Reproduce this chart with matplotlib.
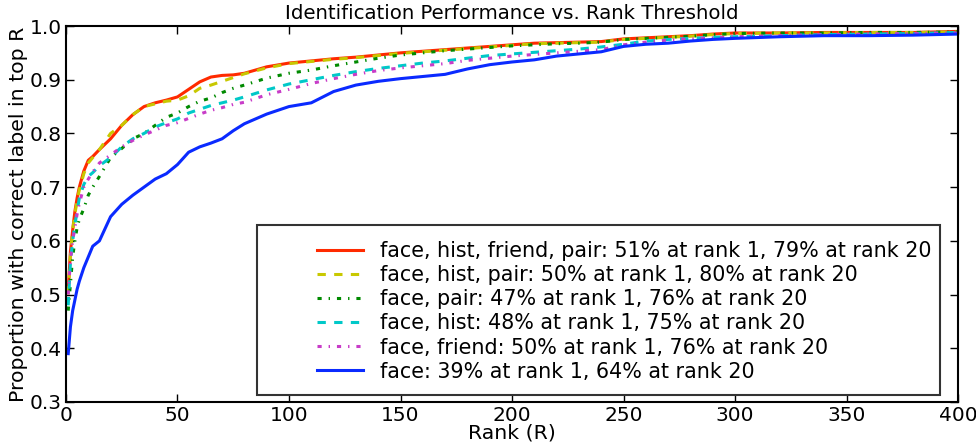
import matplotlib
matplotlib.use("Agg")
import matplotlib.pyplot as plt
from matplotlib.patches import Rectangle

ranks = [1, 2, 3, 4, 5, 6, 8, 10, 12, 15, 20, 25, 30, 35, 40, 45, 50, 55, 60, 65,
         70, 75, 80, 90, 100, 110, 120, 130, 140, 150, 160, 170, 180, 190, 200,
         210, 220, 230, 240, 250, 260, 270, 280, 290, 300, 320, 340, 360, 380, 400]

face_hist_friend_pair = [0.51, 0.58, 0.62, 0.655, 0.68, 0.70, 0.73, 0.75, 0.757, 0.77,
                         0.79, 0.815, 0.835, 0.85, 0.857, 0.862, 0.868, 0.882, 0.896, 0.905,
                         0.908, 0.909, 0.912, 0.924, 0.931, 0.935, 0.939, 0.942, 0.946, 0.950,
                         0.953, 0.956, 0.959, 0.962, 0.965, 0.968, 0.969, 0.970, 0.971, 0.976,
                         0.978, 0.980, 0.982, 0.985, 0.987, 0.987, 0.988, 0.988, 0.988, 0.990]
face_hist_pair = [0.50, 0.575, 0.62, 0.65, 0.675, 0.695, 0.725, 0.745, 0.755, 0.77,
                  0.80, 0.815, 0.835, 0.85, 0.855, 0.86, 0.862, 0.87, 0.884, 0.89,
                  0.897, 0.904, 0.911, 0.922, 0.930, 0.934, 0.938, 0.941, 0.945, 0.949,
                  0.952, 0.955, 0.958, 0.961, 0.964, 0.967, 0.968, 0.969, 0.970, 0.975,
                  0.977, 0.979, 0.981, 0.984, 0.986, 0.987, 0.987, 0.988, 0.988, 0.989]
face_pair = [0.47, 0.52, 0.57, 0.60, 0.625, 0.64, 0.66, 0.685, 0.70, 0.72,
             0.755, 0.772, 0.79, 0.80, 0.815, 0.83, 0.838, 0.85, 0.86, 0.866,
             0.876, 0.884, 0.89, 0.903, 0.912, 0.918, 0.926, 0.933, 0.94, 0.946,
             0.95, 0.954, 0.957, 0.96, 0.963, 0.965, 0.967, 0.968, 0.970, 0.975,
             0.977, 0.979, 0.981, 0.984, 0.986, 0.987, 0.987, 0.988, 0.988, 0.989]
face_hist = [0.48, 0.56, 0.60, 0.63, 0.655, 0.68, 0.705, 0.72, 0.727, 0.74,
             0.755, 0.775, 0.79, 0.80, 0.812, 0.82, 0.827, 0.838, 0.845, 0.852,
             0.857, 0.862, 0.868, 0.881, 0.892, 0.90, 0.908, 0.915, 0.921, 0.926,
             0.931, 0.935, 0.94, 0.945, 0.948, 0.951, 0.954, 0.957, 0.961, 0.966,
             0.972, 0.975, 0.977, 0.979, 0.980, 0.982, 0.984, 0.985, 0.986, 0.988]
face_friend = [0.50, 0.565, 0.60, 0.625, 0.65, 0.67, 0.70, 0.715, 0.728, 0.745,
               0.76, 0.775, 0.787, 0.797, 0.806, 0.815, 0.82, 0.828, 0.836, 0.843,
               0.848, 0.854, 0.858, 0.872, 0.882, 0.893, 0.902, 0.91, 0.917, 0.922,
               0.926, 0.93, 0.936, 0.94, 0.944, 0.947, 0.95, 0.953, 0.956, 0.965,
               0.970, 0.974, 0.976, 0.978, 0.980, 0.982, 0.984, 0.985, 0.986, 0.987]
face = [0.39, 0.44, 0.47, 0.49, 0.51, 0.525, 0.55, 0.57, 0.59, 0.60,
        0.645, 0.668, 0.685, 0.70, 0.715, 0.725, 0.742, 0.765, 0.775, 0.782,
        0.79, 0.805, 0.818, 0.836, 0.85, 0.857, 0.878, 0.89, 0.897, 0.902,
        0.906, 0.91, 0.92, 0.928, 0.933, 0.937, 0.944, 0.948, 0.952, 0.962,
        0.966, 0.968, 0.972, 0.975, 0.977, 0.980, 0.982, 0.982, 0.983, 0.985]

labels = ["face, hist, friend, pair: 51% at rank 1, 79% at rank 20",
          "face, hist, pair: 50% at rank 1, 80% at rank 20",
          "face, pair: 47% at rank 1, 76% at rank 20",
          "face, hist: 48% at rank 1, 75% at rank 20",
          "face, friend: 50% at rank 1, 76% at rank 20",
          "face: 39% at rank 1, 64% at rank 20"]
series = [face_hist_friend_pair, face_hist_pair, face_pair, face_hist, face_friend, face]
colors = ["#ff2a00", "#c8c800", "#008a00", "#00c8c8", "#c83cc8", "#0a2aff"]
styles = ["-", (0, (6, 6)), (0, (3, 5, 1, 5)), (0, (6, 6)), (0, (3, 5, 1, 5)), "-"]

xticks = [0, 50, 100, 150, 200, 250, 300, 350, 400]
yticks = [0.3, 0.4, 0.5, 0.6, 0.7, 0.8, 0.9, 1.0]

plt.rcParams['font.family'] = ['DejaVu Sans']
plt.rcParams['lines.scale_dashes'] = False
fig = plt.figure(figsize=(9.76, 4.46), dpi=100)
ax = fig.add_axes([0.0676, 0.0987, 0.9140, 0.8430])

handles = []
for vals, c, ls, lab in zip(series, colors, styles, labels):
    h, = ax.plot(ranks, vals, color=c, linestyle=ls, linewidth=2.2, label=lab)
    handles.append(h)

ax.set_xlim(0, 400)
ax.set_ylim(0.3, 1.0)
ax.set_xticks(xticks)
ax.set_yticks(yticks)
ax.set_yticklabels([f"{v:.1f}" for v in yticks])
ax.tick_params(direction='in', top=True, right=True, length=6, width=1, labelsize=14.5, pad=3)
for s in ax.spines.values():
    s.set_linewidth(1.5)

ax.set_title("Identification Performance vs. Rank Threshold", fontsize=14.2, pad=5)
ax.set_xlabel("Rank (R)", fontsize=14.7, labelpad=-1)
ax.set_ylabel("Proportion with correct label in top R", fontsize=14.7, labelpad=1)

ax.add_patch(Rectangle((0.214, 0.0186), 0.766, 0.452, transform=ax.transAxes,
                       facecolor='white', edgecolor='#333333', linewidth=1.5, zorder=4))
leg = ax.legend(handles=handles, loc='center left', bbox_to_anchor=(0.281, 0.241),
                frameon=False, fontsize=14.9, handlelength=2.22, handletextpad=0.82,
                labelspacing=0.2, borderpad=0, borderaxespad=0)
leg.set_zorder(5)

fig.savefig("out.png", dpi=100)
